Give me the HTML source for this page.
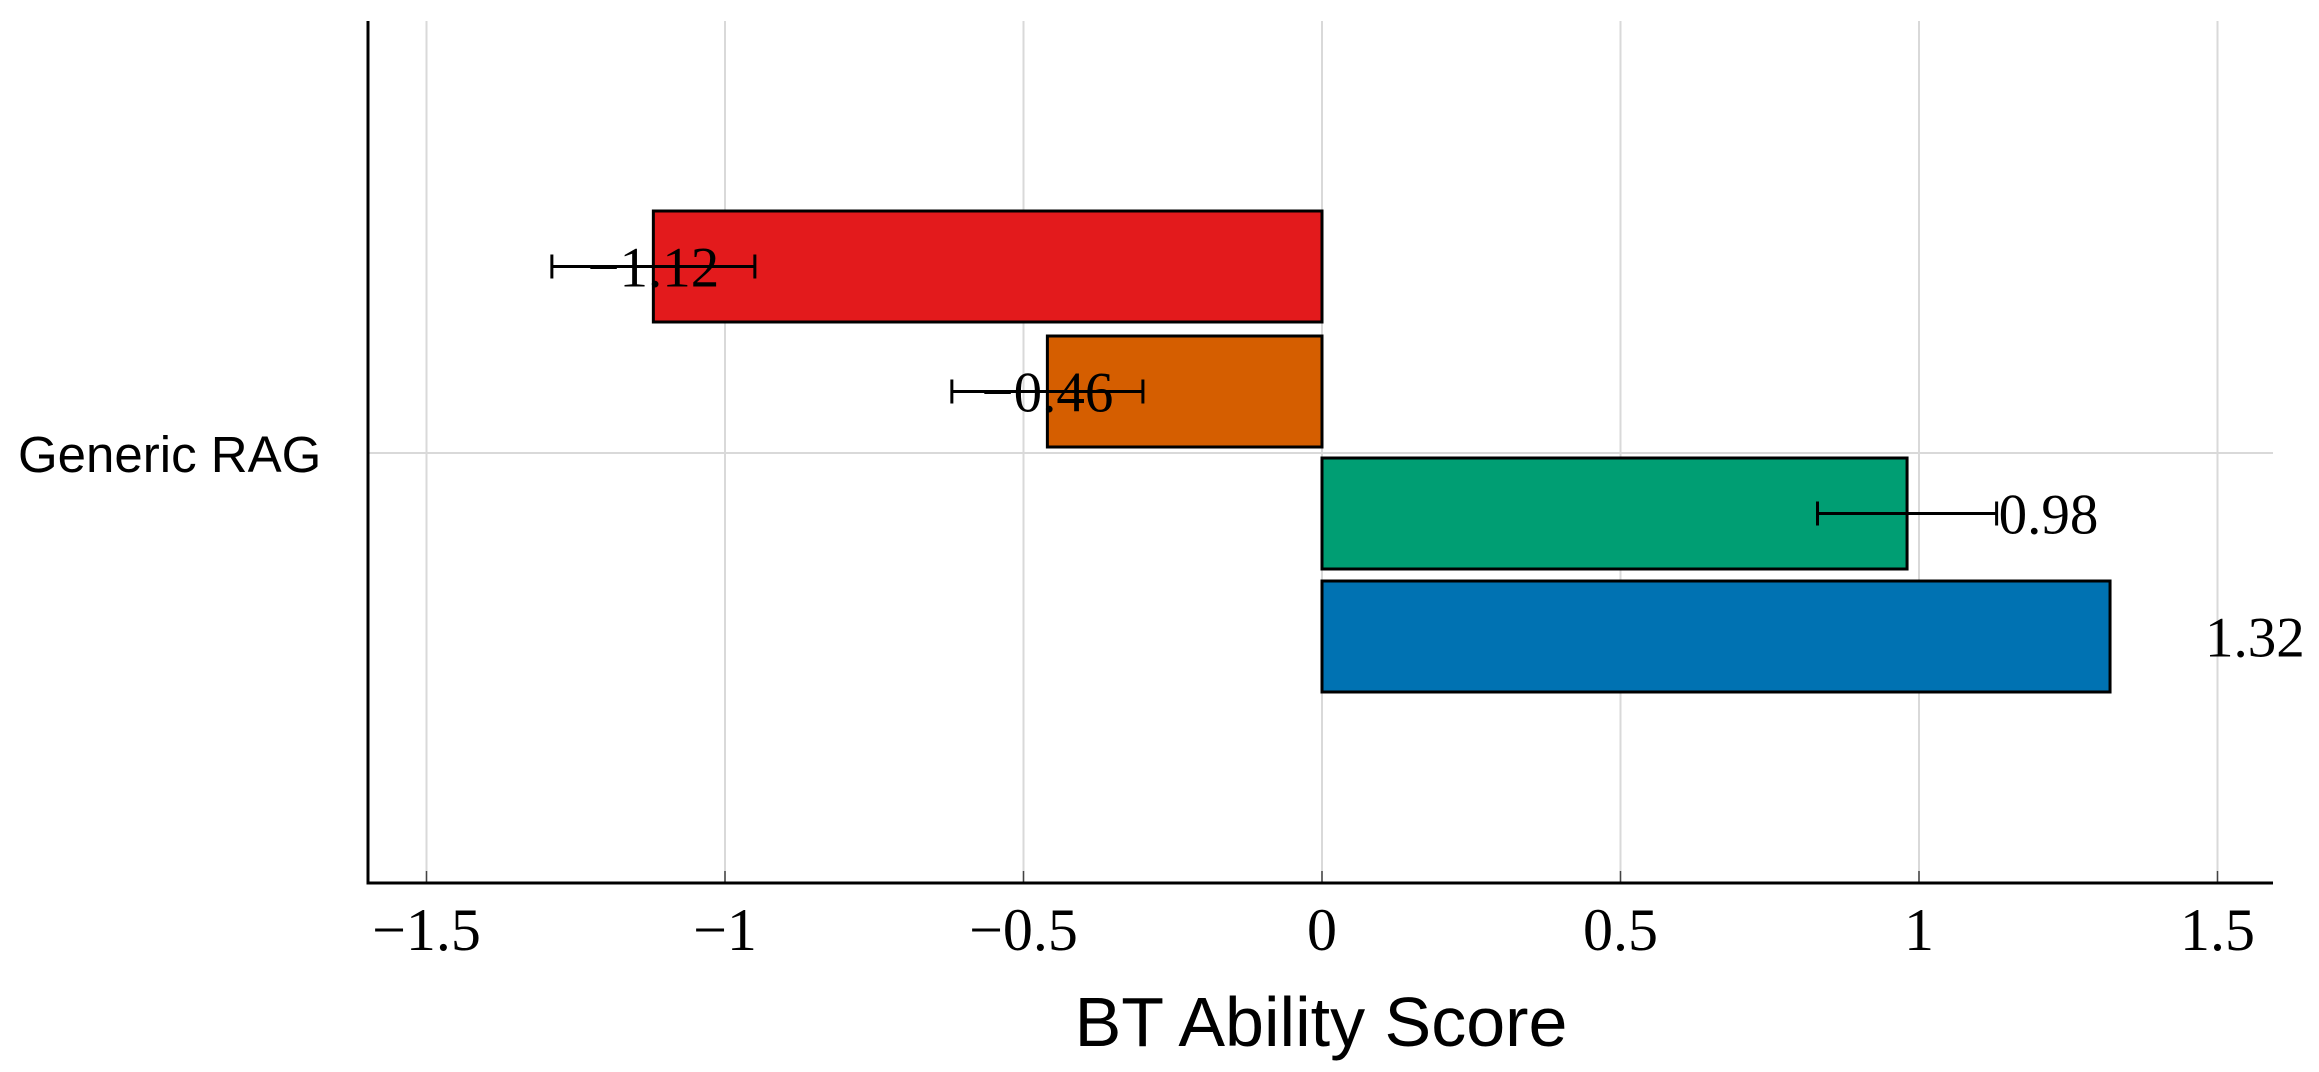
<!DOCTYPE html>
<html><head><meta charset="utf-8"><style>
html,body{margin:0;padding:0;background:#fff;}
svg{display:block;}
</style></head><body>
<svg id="chart" width="2319" height="1072" xmlns="http://www.w3.org/2000/svg"></svg>
<script>
const seriesNames = ["series-red","series-orange","series-green","series-blue"];
const values = [-1.12, -0.46, 0.98, 1.32];
const errLow = [-1.29, -0.62, 0.83, 1.32];
const errHigh = [-0.95, -0.30, 1.13, 1.32];
const valueLabels = ["\u22121.12","\u22120.46","0.98","1.32"];
const colors = ["#e31a1c","#d55e00","#009e73","#0072b2"];
const tickValues = [-1.5,-1,-0.5,0,0.5,1,1.5];
const tickLabels = ["\u22121.5","\u22121","\u22120.5","0","0.5","1","1.5"];
const categories = ["Generic RAG"];

const NS="http://www.w3.org/2000/svg";
const svg=document.getElementById('chart');
const X0=1322, UNIT=597, L=368, R=2273, TOP=21, BOT=883;
const xs=v=>X0+v*UNIT;
const barTops=[211,336,458,581], barH=111;
function mk(tag,attrs,parent){const e=document.createElementNS(NS,tag);for(const k in attrs)e.setAttribute(k,attrs[k]);(parent||svg).appendChild(e);return e;}

tickValues.forEach((t,i)=>{
  const g=mk('line',{x1:xs(t),x2:xs(t),y1:TOP,y2:BOT,stroke:'#d9d9d9','stroke-width':2});
  
  
  const tk=mk('line',{x1:xs(t),x2:xs(t),y1:BOT-12,y2:BOT,stroke:'#444','stroke-width':1.5});
  
  
  const tl=mk('text',{x:xs(t),y:950,'text-anchor':'middle','font-family':'Liberation Serif, serif','font-size':60,fill:'#000'});
  tl.textContent=tickLabels[i];
  
  
});
const hg=mk('line',{x1:L,x2:R,y1:453,y2:453,stroke:'#d9d9d9','stroke-width':2});



values.forEach((v,i)=>{
  const x=Math.min(xs(0),xs(v)), w=Math.abs(xs(v)-xs(0));
  const b=mk('rect',{x:x,y:barTops[i],width:w,height:barH,fill:colors[i],stroke:'#000','stroke-width':3});
  
  
  const cy=barTops[i]+barH/2;
  if(errHigh[i]!==errLow[i]){
    const eg=mk('g',{stroke:'#000','stroke-width':3});
    
    
    mk('line',{x1:xs(errLow[i]),x2:xs(errHigh[i]),y1:cy,y2:cy},eg);
    mk('line',{x1:xs(errLow[i]),x2:xs(errLow[i]),y1:cy-12,y2:cy+12},eg);
    mk('line',{x1:xs(errHigh[i]),x2:xs(errHigh[i]),y1:cy-12,y2:cy+12},eg);
  }
  const lx = v<0 ? (xs(errLow[i])+xs(errHigh[i]))/2 : xs(errHigh[i]);
  const anchor = v<0 ? 'middle' : 'start';
  const t=mk('text',{x:v<0?lx:(errHigh[i]===errLow[i]?2205:lx+2),y:cy+20,'text-anchor':anchor,'font-family':'Liberation Serif, serif','font-size':57,fill:'#000'});
  t.textContent=valueLabels[i];
  
  
});

const ax=mk('path',{d:`M${L} ${TOP} L${L} ${BOT} L${R} ${BOT}`,fill:'none',stroke:'#000','stroke-width':3});



const cl=mk('text',{x:18,y:472,'font-family':'Liberation Sans, sans-serif','font-size':51,fill:'#000'});
cl.textContent=categories[0];



const xt=mk('text',{x:1321,y:1046,'text-anchor':'middle','font-family':'Liberation Sans, sans-serif','font-size':70,fill:'#000'});
xt.textContent='BT Ability Score';


</script>
</body></html>
